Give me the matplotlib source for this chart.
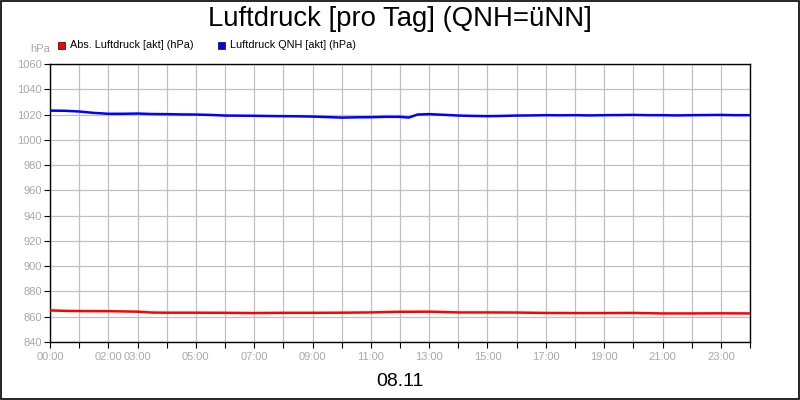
import matplotlib
matplotlib.use("Agg")
import matplotlib.pyplot as plt
from matplotlib.patches import Rectangle

plt.rcParams['font.family'] = ['Liberation Sans', 'DejaVu Sans']

# Data (hours of day)
hours_qnh = [0, 0.5, 1, 1.5, 2, 2.5, 3, 3.5, 4, 4.5, 5, 5.5, 6, 6.5, 7, 7.5, 8, 8.5, 9, 9.5,
             10, 10.5, 11, 11.5, 12, 12.3, 12.6, 13, 13.5, 14, 14.5, 15, 15.5, 16, 16.5, 17,
             17.5, 18, 18.5, 19, 19.5, 20, 20.5, 21, 21.5, 22, 22.5, 23, 23.5, 24]
qnh = [1023.1, 1023.0, 1022.4, 1021.3, 1020.6, 1020.6, 1020.8, 1020.4, 1020.3, 1020.1, 1020.0,
       1019.7, 1019.2, 1019.1, 1019.0, 1018.8, 1018.7, 1018.6, 1018.4, 1018.0,
       1017.6, 1017.8, 1017.9, 1018.2, 1018.2, 1017.6, 1020.0, 1020.3, 1019.8, 1019.2, 1018.9,
       1018.7, 1018.9, 1019.2, 1019.3, 1019.5, 1019.4, 1019.5, 1019.3, 1019.5, 1019.6,
       1019.7, 1019.5, 1019.5, 1019.3, 1019.5, 1019.6, 1019.7, 1019.5, 1019.5]

hours_abs = [0, 0.6, 1, 2, 3, 3.5, 4, 5, 6, 7, 8, 9, 10, 11, 12, 13, 14, 15, 16, 17,
             18, 19, 20, 21, 22, 23, 24]
abs_p = [865.0, 864.6, 864.5, 864.4, 864.0, 863.3, 863.2, 863.2, 863.1, 862.9, 863.1, 863.1,
         863.2, 863.4, 863.9, 864.0, 863.4, 863.4, 863.3, 863.0, 862.9, 862.9, 863.0,
         862.6, 862.6, 862.7, 862.6]

tick_hours = list(range(0, 25))
label_hours = [0, 2, 3, 5, 7, 9, 11, 13, 15, 17, 19, 21, 23]
y_ticks = list(range(840, 1061, 20))

series_labels = ["Abs. Luftdruck [akt] (hPa)", "Luftdruck QNH [akt] (hPa)"]
series_colors = ["#ff0000", "#0000ff"]

title = "Luftdruck [pro Tag] (QNH=üNN]"
date_label = "08.11"

grey = "#a8a8a8"

fig = plt.figure(figsize=(8, 4), dpi=100)
fig.patch.set_facecolor("white")
ax = fig.add_axes([0.0625, 0.145, 0.875, 0.695])

ax.plot(hours_abs, abs_p, color=series_colors[0], lw=1.8, zorder=3)
ax.plot(hours_qnh, qnh, color=series_colors[1], lw=1.8, zorder=3)

ax.set_xlim(0, 24)
ax.set_ylim(840, 1060)
ax.set_yticks(y_ticks)
ax.set_xticks(tick_hours)
ax.set_xticklabels([f"{h:02d}:00" if h in label_hours else "" for h in tick_hours])
ax.grid(True, color="#c0c0c0", lw=0.9)
ax.set_axisbelow(True)
for s in ax.spines.values():
    s.set_color("black")
    s.set_linewidth(1.0)
ax.tick_params(axis="both", colors="black", labelcolor=grey, labelsize=8, length=4, width=0.8)
ax.tick_params(axis="x", pad=3)
ax.tick_params(axis="y", pad=2)

fig.text(0.5, 0.953, title, ha="center", va="center", fontsize=19.8, color="black")
fig.text(0.5, 0.047, date_label, ha="center", va="center", fontsize=14, color="black")
fig.text(0.05, 0.877, "hPa", ha="center", va="center", fontsize=8, color=grey)

# Legend
leg_x = [0.0725, 0.2725]
for lx, lab, col in zip(leg_x, series_labels, series_colors):
    fig.patches.append(Rectangle((lx, 0.877), 0.009, 0.018, transform=fig.transFigure,
                                 facecolor=col, edgecolor="#202020", lw=0.6))
    fig.text(lx + 0.015, 0.887, lab, ha="left", va="center", fontsize=7.8, color="black")

# Outer border
fig.patches.append(Rectangle((0.0008, 0.0015), 0.9984, 0.997, transform=fig.transFigure,
                             fill=False, edgecolor="black", lw=1.2))

fig.savefig("out.png", dpi=100)
